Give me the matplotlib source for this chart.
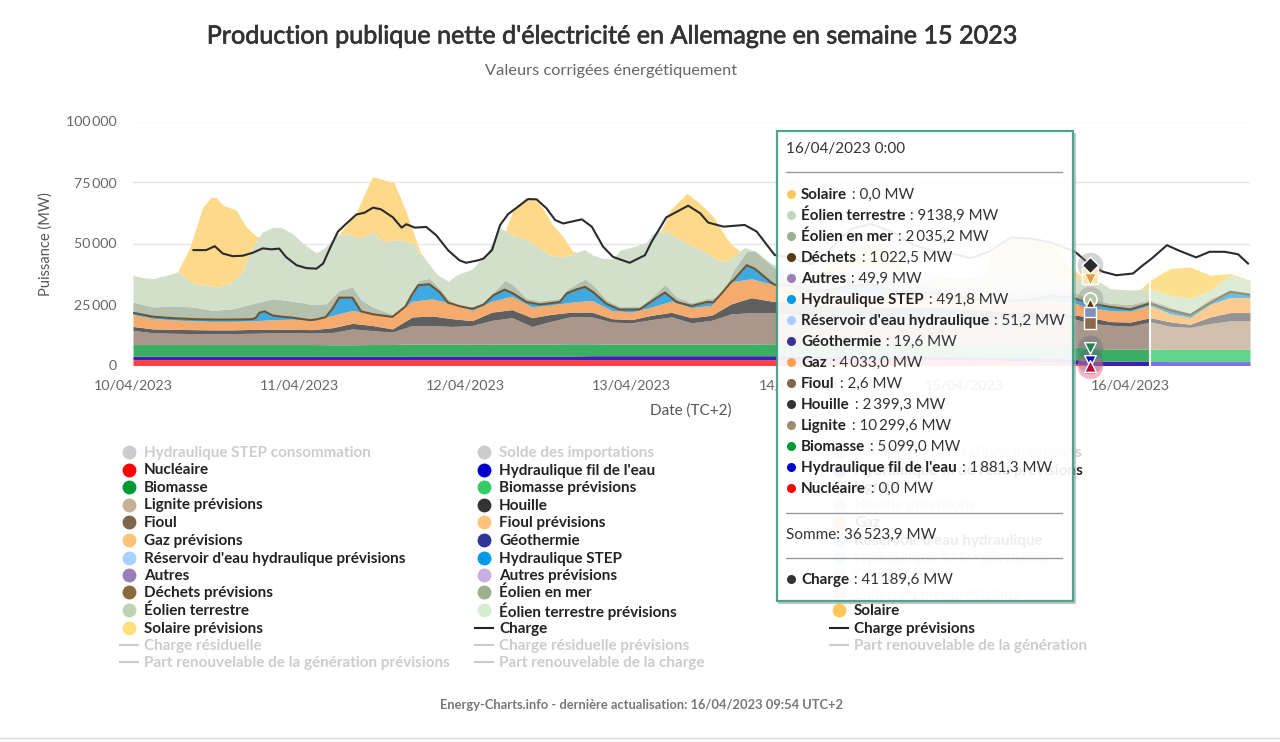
import numpy as np
import matplotlib
matplotlib.use('Agg')
import matplotlib.pyplot as plt
import matplotlib.patheffects as pe
from matplotlib.lines import Line2D
from matplotlib.patches import Rectangle

plt.rcParams['font.family'] = ['Lato', 'DejaVu Sans']

# heures depuis le 10/04 0:00, un point toutes les 3 h pour les couches basses
hours = list(range(0, 169, 3))
forecast_start = 153

# limites hautes des couches empilees (MW)
nuclear_top = [2400, 2400, 2400, 2400, 2400, 2400, 2400, 2400, 2400, 2400, 2400, 2400, 2400, 2400, 2400, 2400, 2400, 2400, 2400,
               2400, 2400, 2400, 2400, 2400, 2400, 2400, 2400, 2400, 2400, 2400, 2400, 2400, 2400, 2400, 2400, 2400, 2400, 2400,
               2400, 2400, 2400, 2400, 2300, 2200, 2000, 1800, 1500, 900, 0, 0, 0, 0, 0, 0, 0, 0, 0]
hydro_top = [3800, 3800, 3800, 3800, 3800, 3800, 3800, 3800, 3800, 3800, 3800, 3800, 3800, 3800, 3900, 3900, 3900, 3900, 3900,
             3900, 3900, 3900, 3900, 4000, 4000, 4000, 4000, 4000, 4000, 4000, 4000, 4000, 4000, 4000, 4000, 3900, 3900, 3900,
             3900, 3900, 3900, 3800, 3600, 3500, 3400, 3300, 3100, 2600, 1900, 1800, 1700, 1700, 1600, 1600, 1600, 1600, 1600]
biomass_top = [8600, 8600, 8600, 8600, 8600, 8600, 8600, 8600, 8600, 8600, 8500, 8500, 8600, 8600, 8800, 8800, 8800, 8700, 8700,
               8800, 8800, 8800, 8900, 8900, 8800, 8800, 8800, 8800, 8800, 8800, 8800, 8800, 8900, 8800, 8700, 8700, 8700, 8700,
               8700, 8700, 8700, 8600, 8500, 8400, 8300, 8200, 8100, 7800, 7000, 6800, 6700, 6700, 6600, 6600, 6600, 6600, 6600]
lignite_top = [14400, 13400, 13200, 13100, 13000, 13100, 13200, 13400, 13400, 13300, 13500, 15000, 14300, 13700, 16400, 16400,
               16000, 16400, 18500, 19600, 16000, 18200, 20100, 19900, 17800, 17500, 18800, 19900, 17500, 18500, 21200, 21600,
               21600, 21000, 20500, 20500, 20500, 20500, 20000, 20000, 20000, 20000, 19500, 19000, 19000, 19000, 19500, 19500,
               17300, 16500, 16100, 17900, 16100, 15600, 17200, 18300, 18300]
coal_top = [16000, 15000, 14800, 14700, 14600, 14600, 14800, 14900, 14800, 14700, 15500, 17300, 16400, 15000, 19900, 20300,
            19200, 18400, 21900, 22900, 19600, 21000, 21900, 21900, 19200, 18800, 20600, 21800, 19600, 20600, 25300, 27800,
            26400, 26000, 25000, 24500, 24500, 24000, 24000, 24000, 24000, 23500, 23000, 22500, 22000, 22000, 22000, 21000,
            19700, 18000, 17800, 19600, 17900, 16900, 19900, 21700, 21700]
gas_top = [20900, 19300, 18700, 18300, 18100, 18100, 18300, 18800, 19000, 18500, 20500, 22600, 21000, 19900, 26400, 27300,
           25300, 22600, 26400, 28400, 24000, 24900, 26000, 26700, 22600, 21900, 24000, 26400, 23700, 24700, 34300, 35600,
           33300, 32000, 30000, 29500, 29500, 29000, 29000, 29000, 29000, 28000, 27000, 26000, 26000, 26000, 26500, 26000,
           23700, 22500, 22300, 24700, 21300, 19700, 25100, 27900, 27900]

# couches hautes et charge : points irreguliers pour suivre les bosses
waste_hours = [0, 3, 6, 9, 12, 15, 18, 18.5, 19, 19.8, 21, 22, 24, 26.6, 29, 30, 31, 33, 34.3, 36.1, 39.1, 40.9, 41.9, 42.9, 44.6,
               46.1, 47.4, 49.1, 51.1, 52.7, 54.2, 55.9, 57.2, 59.2, 61.2, 64.2, 65.2, 66.7, 68, 69.2, 71.2, 73.2, 76.2, 78.2, 80,
               81.8, 84, 86.3, 88.3, 90.3, 92.3, 93.5, 96.5, 99, 102, 105, 108, 111, 114, 117, 120, 123, 126, 129, 132, 135, 138,
               141, 144, 147, 150, 153, 156, 159, 162, 165, 168]
waste_top = [21600, 20000, 19400, 19000, 18800, 18800, 19000, 19600, 21600, 22200, 20500, 20100, 19600, 18600, 19200, 23300, 27800,
             27800, 22200, 21000, 19900, 20500, 28800, 32900, 33300, 30100, 25300, 22600, 23300, 24900, 28800, 31100, 29500, 26000,
             25000, 26000, 29500, 31200, 32200, 30100, 25300, 22900, 23000, 26700, 29900, 26000, 24400, 26000, 25800, 34900, 41100,
             39700, 32900, 33000, 30500, 31000, 33000, 33000, 31000, 30000, 30000, 28500, 27500, 26500, 26500, 27000, 28500, 28000,
             25400, 24000, 23000, 25500, 22700, 20700, 25700, 30200, 29000]
offshore_hours = [0, 3, 6, 9, 12, 15, 18, 21, 24, 27, 29, 31, 33, 34.3, 36, 39, 41, 42, 43, 44.6, 46, 47.4, 49, 51, 52.7, 54.2, 56,
                  57.2, 59.2, 61.2, 64.2, 65.2, 66.7, 68, 69.2, 71.2, 73.2, 76.2, 78.2, 80, 81.8, 84, 86.3, 88.3, 90.3, 92.3, 93.5,
                  96.5, 99, 102, 105, 108, 111, 114, 117, 120, 123, 126, 129, 132, 135, 138, 141, 144, 147, 150, 153, 156, 159, 162,
                  165, 168]
offshore_top = [26000, 24000, 24400, 24000, 22600, 23300, 25300, 27400, 26400, 25000, 25300, 30800, 32200, 27000, 24000, 21000, 22000,
                31000, 34900, 35700, 32000, 27400, 23800, 24000, 26000, 30000, 35000, 33000, 27500, 26500, 27500, 31000, 33600, 35500,
                33000, 26900, 24200, 24200, 28500, 33300, 28000, 25800, 27500, 28000, 39000, 46900, 47000, 40000, 38000, 34000, 34000,
                37000, 37000, 35000, 34000, 33000, 31000, 30000, 29500, 29500, 30000, 31500, 30500, 27400, 25500, 25000, 27000, 24000,
                21500, 27500, 31000, 30000]
onshore_hours = [0, 1.5, 3, 6, 7, 8.5, 9.5, 13, 14.5, 16.3, 18, 19.5, 21, 22.3, 24, 25.6, 27.6, 29, 30.6, 32.6, 34.1, 36.1, 37.6, 40.1,
                 42.4, 42.9, 44.1, 45.6, 47.4, 48.6, 51.1, 53.2, 55.2, 57.2, 59.2, 62.8, 64.7, 66.2, 67.9, 69.2, 70.7, 72.2, 73.2,
                 75.2, 77.2, 78.2, 80.2, 83.2, 85.8, 88.3, 89.8, 92, 93.8, 96, 99, 102, 105, 108, 111, 114, 117, 120, 123, 126, 129,
                 132, 135, 138, 141, 144, 147, 150, 153, 156, 159, 162, 165, 168]
onshore_top = [37000, 36000, 35600, 37700, 38400, 34700, 33200, 32300, 33600, 37700, 48700, 54800, 56600, 56600, 54000, 50000, 46100,
               48700, 53400, 53900, 52100, 54800, 51000, 51600, 49900, 46600, 43200, 37700, 34500, 37000, 39700, 46300, 56500, 53400,
               51400, 45200, 44500, 45900, 47500, 45200, 43800, 43800, 47200, 48600, 50400, 54300, 55000, 50200, 46900, 42700, 43600,
               48400, 46600, 41800, 39000, 36000, 38000, 41000, 41000, 39000, 38000, 37000, 36000, 36000, 38000, 40000, 40000, 38000,
               35000, 36500, 31500, 30900, 31400, 28800, 27500, 30900, 37000, 35000]
solar_hours = [0, 6, 6.75, 8.5, 10.5, 11.75, 12.5, 13.5, 15.5, 17, 18.5, 19.2, 20, 30, 31, 33.5, 36, 37.5, 39.25, 41, 42.75, 43.2, 44,
               54.5, 55.7, 57.2, 58.7, 60.2, 61.5, 63, 64.7, 66, 66.7, 67.5, 78.5, 79.5, 80.8, 83.3, 85.3, 87.3, 89.3, 91.3, 92, 103,
               105, 108, 111, 114, 116, 128, 129, 132, 135, 138, 141, 143, 150, 151.5, 153, 156, 159, 162, 165, 168]
solar_top = [0, 0, 38600, 48000, 65000, 68900, 68900, 65800, 63700, 56900, 53000, 52700, 0, 0, 54000, 62300, 77400, 76300, 75000, 63700,
             50000, 46600, 0, 0, 53000, 64000, 68000, 68900, 65000, 58000, 52700, 47300, 45900, 0, 0, 55500, 63700, 70600, 66400, 61000,
             52000, 45900, 0, 0, 42000, 48000, 50000, 46000, 0, 0, 46000, 53000, 53000, 50000, 40000, 0, 0, 31000, 35000, 39800, 40400,
             37000, 37700, 35000]
load_hours = [9.1, 11, 12.3, 13.5, 15, 16.5, 18, 19.5, 20.8, 22, 23, 24.6, 26.1, 27.6, 28.6, 29.6, 30.8, 32.1, 33.6, 34.8, 36.1, 37.3,
              39.1, 40.4, 41.1, 42.4, 44.1, 45.6, 47.4, 49.1, 50.1, 51.9, 52.7, 54, 55.2, 56.4, 58.2, 59.4, 60.7, 62.2, 63.5, 64.7, 67.5,
              69, 70.7, 72.2, 74.7, 77, 78, 80.2, 83.5, 85.3, 86.5, 88.8, 92, 93.8, 96.5, 99, 102, 105, 108, 111, 114, 117, 120, 123,
              126, 129, 132, 135, 138, 141.7, 144, 145.9, 147.9, 150.4, 151.9, 153.2, 155.5, 157.4, 159.9, 161.9, 164.2, 166.2, 167.7]
load = [47300, 47300, 48900, 45900, 44800, 45000, 46200, 48000, 47600, 47900, 44500, 41100, 39900, 39700, 41800, 47900, 54800, 58200,
        61900, 62600, 64700, 64000, 60700, 56500, 57900, 56500, 56800, 53400, 47200, 43100, 42100, 43100, 43800, 47300, 57500, 62000,
        65700, 68200, 68100, 64400, 59600, 58200, 59900, 56900, 48700, 44500, 42100, 45200, 50700, 60700, 65500, 62400, 58600, 56900,
        57600, 54900, 45300, 44000, 41500, 48000, 56000, 58000, 55000, 50000, 47000, 46000, 44000, 47000, 52500, 52000, 50500, 46600,
        41200, 38400, 37000, 37700, 41100, 43800, 49300, 47000, 44300, 46600, 46600, 45600, 41800]

x_tick_hours = [0, 25, 50, 75, 100, 125, 150]
x_tick_labels = ['10/04/2023', '11/04/2023', '12/04/2023', '13/04/2023', '14/04/2023', '15/04/2023', '16/04/2023']
y_ticks = [0, 25000, 50000, 75000, 100000]
y_tick_labels = ['0', '25\u2009000', '50\u2009000', '75\u2009000', '100\u2009000']

# (nom, couleur, grise ?)
legend_rows = [
    [('Hydraulique STEP consommation', '#cccccc', True), ('Solde des importations', '#cccccc', True), ('Solde des importations prévisions', '#cccccc', True)],
    [('Nucléaire', '#ff0000', False), ("Hydraulique fil de l'eau", '#0000cc', False), ("Hydraulique fil de l'eau prévisions", '#6666e0', False)],
    [('Biomasse', '#009933', False), ('Biomasse prévisions', '#33cc66', False), ('Lignite', '#a08a70', False)],
    [('Lignite prévisions', '#c8b097', False), ('Houille', '#333333', False), ('Houille prévisions', '#cccccc', True)],
    [('Fioul', '#7f6648', False), ('Fioul prévisions', '#ffc27a', False), ('Gaz', '#ff9f55', False)],
    [('Gaz prévisions', '#ffc27a', False), ('Géothermie', '#333399', False), ("Réservoir d'eau hydraulique", '#aaccff', False)],
    [("Réservoir d'eau hydraulique prévisions", '#a6d2ff', False), ('Hydraulique STEP', '#0099e6', False), ('Hydraulique STEP prévisions', '#99d6f5', True)],
    [('Autres', '#9a7fb5', False), ('Autres prévisions', '#c8aee3', False), ('Déchets', '#cccccc', True)],
    [('Déchets prévisions', '#8a6a3a', False), ('Éolien en mer', '#9caf8f', False), ('Éolien en mer prévisions', '#cccccc', True)],
    [('Éolien terrestre', '#bcd4b4', False), ('Éolien terrestre prévisions', '#d6ebd0', False), ('Solaire', '#ffc65c', False)],
    [('Solaire prévisions', '#ffe07a', False), ('Charge', None, False), ('Charge prévisions', None, False)],
    [('Charge résiduelle', None, True), ('Charge résiduelle prévisions', None, True), ('Part renouvelable de la génération', None, True)],
    [('Part renouvelable de la génération prévisions', None, True), ('Part renouvelable de la charge', None, True), None],
]
legend_row_y = [453, 470.5, 488, 505.5, 523, 541, 558.5, 576, 593, 611, 628.5, 646, 663]
legend_col_x = [129, 484, 839]

tooltip_rows = [
    ('Solaire', '0,0 MW', '#ffc65c'),
    ('Éolien terrestre', '9138,9 MW', '#c0d8b8'),
    ('Éolien en mer', '2\u2009035,2 MW', '#9caf8f'),
    ('Déchets', '1\u2009022,5 MW', '#5a3a10'),
    ('Autres', '49,9 MW', '#9a7fb5'),
    ('Hydraulique STEP', '491,8 MW', '#0099e6'),
    ("Réservoir d'eau hydraulique", '51,2 MW', '#aaccff'),
    ('Géothermie', '19,6 MW', '#333399'),
    ('Gaz', '4\u2009033,0 MW', '#ff9f55'),
    ('Fioul', '2,6 MW', '#7f6648'),
    ('Houille', '2\u2009399,3 MW', '#333333'),
    ('Lignite', '10\u2009299,6 MW', '#a08a70'),
    ('Biomasse', '5\u2009099,0 MW', '#009933'),
    ("Hydraulique fil de l'eau", '1\u2009881,3 MW', '#0000cc'),
    ('Nucléaire', '0,0 MW', '#ff0000'),
]

W, H = 1280, 742
fig = plt.figure(figsize=(W / 100, H / 100), dpi=100)
ax = fig.add_axes([133 / W, 1 - 365.5 / H, 1117 / W, 244 / H])


def fx(px):
    return px / W


def fy(py):
    return 1 - py / H


# grille commune pour le trace : les lignes restent celles des points lus
h = np.array(sorted(set(hours) | set(waste_hours) | set(offshore_hours) | set(onshore_hours) | set(solar_hours)))


def on_grid(knot_hours, values):
    return np.interp(h, knot_hours, values)


nuclear = on_grid(hours, nuclear_top)
hydro = on_grid(hours, hydro_top)
biomass = on_grid(hours, biomass_top)
lignite = on_grid(hours, lignite_top)
coal = on_grid(hours, coal_top)
gas = on_grid(hours, gas_top)
waste = np.maximum(on_grid(waste_hours, waste_top), gas)
offshore = np.maximum(on_grid(offshore_hours, offshore_top), waste)
onshore = np.maximum(on_grid(onshore_hours, onshore_top), offshore)
solar = np.maximum(on_grid(solar_hours, solar_top), onshore)

past = h <= forecast_start
fut = h >= forecast_start
# couches : (bas, haut, couleur mesuree, couleur prevision)
layers = [
    (np.zeros(len(h)), nuclear, '#ff4040', '#ff9090'),
    (nuclear, hydro, '#3f1fb5', '#7a70ea'),
    (hydro, biomass, '#3cae63', '#5fd68a'),
    (biomass, lignite, '#a8978a', '#d0bfac'),
    (lignite, coal, '#5f5f5f', '#949494'),
    (coal, gas, '#f5ab6e', '#fdcb90'),
    (gas, waste, '#3fa9e0', '#66bde8'),
    (waste, offshore, '#b4c1ac', '#c9d9c0'),
    (offshore, onshore, '#d2dfcb', '#dcebd5'),
    (onshore, solar, '#fed98a', '#fde08e'),
]
for bottom, top, col, col_fc in layers:
    ax.fill_between(h[past], bottom[past], top[past], color=col, lw=0, zorder=2)
    ax.fill_between(h[fut], bottom[fut], top[fut], color=col_fc, lw=0, zorder=2)

# bande fine dechets / autres
ax.plot(h[past], waste[past], color='#6b5535', lw=1.5, zorder=3)
ax.plot(h[fut], waste[fut], color='#a08a6a', lw=1.5, zorder=3)
ax.plot(load_hours, load, color='#2b2b2b', lw=1.5, zorder=4)
ax.vlines(forecast_start, 0, solar[np.searchsorted(h, forecast_start)], color='white', lw=1.5, zorder=5)

# marqueurs du survol a 16/04 0:00
hover = 144
ax.scatter([hover] * 2, [41190, 27400], s=340, color='#888888', alpha=0.35, lw=0, zorder=6, clip_on=False)
ax.scatter([hover], [0], s=340, color='#ff7090', alpha=0.5, lw=0, zorder=6, clip_on=False)
ax.scatter([hover] * 2, [7000, 1900], s=340, color='#556677', alpha=0.3, lw=0, zorder=6, clip_on=False)
ax.scatter([hover], [36500], s=120, marker='s', color='#f8e6b0', edgecolor='white', lw=1, zorder=7)
ax.scatter([hover], [35500], s=70, marker='v', color='#e0a040', edgecolor='white', lw=0.8, zorder=8)
ax.scatter([hover], [27400], s=90, marker='o', color='#b4c8a8', edgecolor='white', lw=1.2, zorder=8)
ax.scatter([hover], [25400], s=70, marker='^', color='#5a3a10', edgecolor='white', lw=1, zorder=8)
ax.scatter([hover], [21500], s=70, marker='s', color='#8090c0', edgecolor='white', lw=1, zorder=8)
ax.scatter([hover], [17300], s=80, marker='s', color='#8a6a4a', edgecolor='white', lw=1, zorder=8)
ax.scatter([hover], [7000], s=70, marker='v', color='#1a8a4a', edgecolor='white', lw=1, zorder=8)
ax.scatter([hover], [1900], s=70, marker='v', color='#1010b0', edgecolor='white', lw=1, zorder=8)
ax.scatter([hover], [0], s=70, marker='^', color='#c00030', edgecolor='white', lw=1, zorder=8, clip_on=False)
ax.scatter([hover], [41190], s=70, marker='D', color='#2b2b2b', edgecolor='white', lw=1, zorder=9)

ax.set_xlim(0, 168)
ax.set_ylim(0, 100000)
ax.set_yticks(y_ticks)
ax.set_yticklabels(y_tick_labels, fontsize=10.2, color='#666666')
ax.set_xticks(x_tick_hours)
ax.set_xticklabels(x_tick_labels, fontsize=10.3, color='#666666')
ax.tick_params(axis='x', length=0, pad=10)
ax.tick_params(axis='y', length=0, pad=12)
ax.grid(axis='y', color='#e6e6e6', lw=1, zorder=0)
ax.set_axisbelow(True)
for s in ax.spines.values():
    s.set_visible(False)
ax.patch.set_alpha(0)

# titres
title = fig.text(fx(611), fy(36), "Production publique nette d'électricité en Allemagne en semaine 15 2023",
                 ha='center', va='center', fontsize=18.1, color='#333333')
title.set_path_effects([pe.withStroke(linewidth=0.5, foreground='#333333')])
fig.text(fx(611.5), fy(71), 'Valeurs corrigées énergétiquement', ha='center', va='center', fontsize=11.8, color='#666666')
fig.text(fx(46), fy(244), 'Puissance (MW)', rotation=90, ha='center', va='center', fontsize=10.5, color='#555555')
fig.text(fx(691), fy(410.5), 'Date (TC+2)', ha='center', va='center', fontsize=11, color='#555555')
fig.text(fx(641), fy(705), 'Energy-Charts.info - dernière actualisation: 16/04/2023 09:54 UTC+2',
         ha='center', va='center', fontsize=9.3, fontweight='bold', color='#777777')
fig.add_artist(Line2D([0, 1], [fy(738), fy(738)], color='#dddddd', lw=1))

# legende manuelle sur 3 colonnes
for row, py in zip(legend_rows, legend_row_y):
    for item, px in zip(row, legend_col_x):
        if item is None:
            continue
        name, col, greyed = item
        txt_col = '#cccccc' if greyed else '#222222'
        if col is None:
            fig.add_artist(Line2D([fx(px - 9), fx(px + 9)], [fy(py - 1), fy(py - 1)], color=txt_col, lw=1.5))
        else:
            fig.add_artist(Line2D([fx(px)], [fy(py - 1)], marker='o', ms=10, color=col, mew=0, ls=''))
        fig.text(fx(px + 15), fy(py), name, va='center', fontsize=11, fontweight='bold', color=txt_col)

# infobulle
tip_x, tip_y, tip_w, tip_h = 777, 131, 296, 470
tip_r, tip_b = tip_x + tip_w, tip_y + tip_h
fig.add_artist(Line2D([fx(tip_x + 2), fx(tip_r + 1.5), fx(tip_r + 1.5)], [fy(tip_b + 1.5), fy(tip_b + 1.5), fy(tip_y + 3)],
                      color='#aaaaaa', lw=1.5, alpha=0.7, zorder=9))
fig.add_artist(Rectangle((fx(tip_x), fy(tip_b)), tip_w / W, tip_h / H, transform=fig.transFigure,
                         facecolor='white', alpha=0.92, edgecolor='#3a9f85', lw=1.6, zorder=10))

renderer = fig.canvas.get_renderer()


def tip_text(px, py, bold_part, rest, size=10.9):
    t = fig.text(fx(px), fy(py), bold_part, va='center', fontsize=size, fontweight='bold', color='#222222', zorder=11)
    end = t.get_window_extent(renderer).x1
    fig.text(fx(end + 1), fy(py), ' : ' + rest, va='center', fontsize=size, color='#333333', zorder=11)


fig.text(fx(786), fy(149), '16/04/2023 0:00', va='center', fontsize=11, color='#333333', zorder=11)
for py in [172, 513, 558]:
    fig.add_artist(Line2D([fx(786), fx(1062)], [fy(py), fy(py)], color='#999999', lw=1, zorder=11))
for i, (name, val, col) in enumerate(tooltip_rows):
    py = 195 + i * 21
    fig.add_artist(Line2D([fx(791)], [fy(py - 1)], marker='o', ms=6.5, color=col, mew=0, ls='', zorder=11))
    tip_text(801, py, name, val)
fig.text(fx(786), fy(535), 'Somme: 36\u2009523,9 MW', va='center', fontsize=11, color='#333333', zorder=11)
fig.add_artist(Line2D([fx(791)], [fy(579)], marker='o', ms=6.5, color='#333333', mew=0, ls='', zorder=11))
tip_text(801, 580, 'Charge', '41\u2009189,6 MW')

fig.savefig('out.png', dpi=100)
